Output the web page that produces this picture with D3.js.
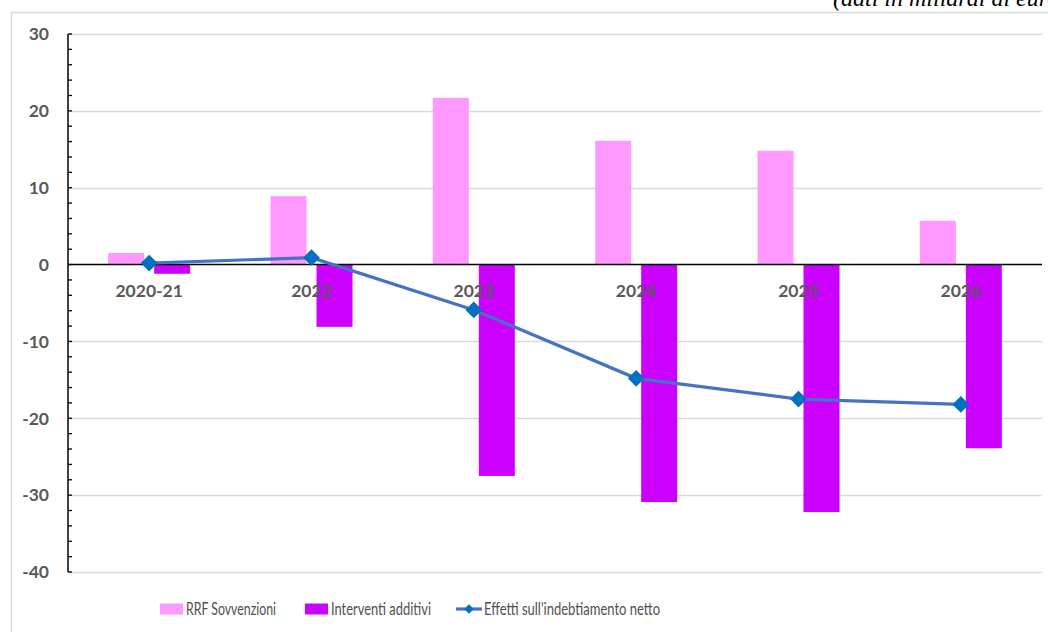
<!DOCTYPE html>
<html>
<head>
<meta charset="utf-8">
<script src="https://cdn.jsdelivr.net/npm/d3@7"></script>
<style>
  body { margin: 0; background: #fff; }
  svg { display: block; }
</style>
</head>
<body>
<div id="chart"></div>
<script>
const categories = ["2020-21", "2022", "2023", "2024", "2025", "2026"];
const rrfSovvenzioni = [1.5, 8.9, 21.7, 16.1, 14.8, 5.7];
const interventiAdditivi = [-1.2, -8.1, -27.5, -30.9, -32.2, -23.9];
const effettiIndebitamento = [0.2, 0.9, -5.9, -14.8, -17.5, -18.2];
const yTicks = [30, 20, 10, 0, -10, -20, -30, -40];
const seriesNames = ["RRF Sovvenzioni", "Interventi additivi", "Effetti sull'indebtiamento netto"];

const W = 1048, H = 632;
const margin = { top: 34, right: 6, bottom: 60, left: 68 };
const width = W - margin.left - margin.right;
const height = 572 - margin.top;

const svg = d3.select("#chart").append("svg")
    .attr("width", W)
    .attr("height", H);

// outer frame (only partly in view)
svg.append("line").attr("x1", 11).attr("x2", W).attr("y1", 12.5).attr("y2", 12.5)
    .attr("stroke", "#d9d9d9").attr("stroke-width", 1.5);
svg.append("line").attr("x1", 11.5).attr("x2", 11.5).attr("y1", 12).attr("y2", H)
    .attr("stroke", "#d9d9d9").attr("stroke-width", 1.5);

// unit note, clipped by the top/right edge as in the source
svg.append("text")
    .attr("x", 833).attr("y", 6)
    .style("font-family", "'Liberation Serif', serif")
    .style("font-style", "italic")
    .style("font-size", "24px")
    .attr("fill", "#000")
    .text("(dati in miliardi di euro)");

const g = svg.append("g").attr("transform", `translate(${margin.left},${margin.top})`);

const x = d3.scaleBand().domain(categories).range([0, width]).padding(0);
const y = d3.scaleLinear().domain([-40, 30]).range([height, 0]);

const labelFont = s => s.style("font-family", "Lato, 'Open Sans', sans-serif")
    .style("font-weight", "bold")
    .style("font-size", "17.5px")
    .attr("fill", "#595959");

// gridlines
g.append("g")
    .selectAll("line")
    .data(yTicks.filter(d => d !== 0))
    .join("line")
    .attr("x1", 0).attr("x2", width)
    .attr("y1", d => Math.round(y(d)) + 0.5).attr("y2", d => Math.round(y(d)) + 0.5)
    .attr("stroke", "#d9d9d9").attr("stroke-width", 1.3);

// bars
const barW = 36, gap = 10;
g.selectAll(".bar-rrf")
    .data(rrfSovvenzioni)
    .join("rect")
    .attr("class", "bar-rrf")
    .attr("x", (d, i) => x(categories[i]) + x.bandwidth() / 2 - gap / 2 - barW)
    .attr("y", d => y(Math.max(0, d)))
    .attr("width", barW)
    .attr("height", d => Math.abs(y(d) - y(0)))
    .attr("fill", "#ff99ff");

g.selectAll(".bar-int")
    .data(interventiAdditivi)
    .join("rect")
    .attr("class", "bar-int")
    .attr("x", (d, i) => x(categories[i]) + x.bandwidth() / 2 + gap / 2)
    .attr("y", d => y(Math.max(0, d)))
    .attr("width", barW)
    .attr("height", d => Math.abs(y(d) - y(0)))
    .attr("fill", "#cc00ff");

// zero line
g.append("line")
    .attr("x1", 0).attr("x2", width)
    .attr("y1", y(0)).attr("y2", y(0))
    .attr("stroke", "#000").attr("stroke-width", 1.5);

// y axis, ticks on the inside
const yAxis = g.append("g");
yAxis.append("line")
    .attr("x1", 0).attr("x2", 0).attr("y1", 0).attr("y2", height)
    .attr("stroke", "#000").attr("stroke-width", 1.5);
yAxis.selectAll(".minor")
    .data(d3.range(-40, 31, 2))
    .join("line")
    .attr("x1", 0).attr("x2", 4)
    .attr("y1", d => y(d)).attr("y2", d => y(d))
    .attr("stroke", "#000").attr("stroke-width", 1.3);
yAxis.selectAll(".lbl")
    .data(yTicks)
    .join("text")
    .attr("x", -19)
    .attr("y", d => y(d))
    .attr("dy", "0.36em")
    .attr("text-anchor", "end")
    .call(labelFont)
    .text(d => d);

// x labels
g.selectAll(".xlbl")
    .data(categories)
    .join("text")
    .attr("x", d => x(d) + x.bandwidth() / 2)
    .attr("y", y(0) + 32)
    .attr("text-anchor", "middle")
    .call(labelFont)
    .text(d => d);

// line + diamond markers
const line = d3.line()
    .x((d, i) => x(categories[i]) + x.bandwidth() / 2)
    .y(d => y(d));
g.append("path")
    .datum(effettiIndebitamento)
    .attr("d", line)
    .attr("fill", "none")
    .attr("stroke", "#4472c4")
    .attr("stroke-width", 3.2);

g.selectAll(".mk")
    .data(effettiIndebitamento)
    .join("path")
    .attr("d", d3.symbol().type(d3.symbolSquare).size(140))
    .attr("transform", (d, i) => `translate(${x(categories[i]) + x.bandwidth() / 2},${y(d)}) rotate(45)`)
    .attr("fill", "#0070c0");

// legend
const legend = svg.append("g").attr("transform", "translate(0,609)");
const legFont = s => s.style("font-family", "Lato, 'Open Sans', sans-serif")
    .style("font-size", "17.5px").attr("fill", "#505050")
    .attr("lengthAdjust", "spacingAndGlyphs");

legend.append("rect").attr("x", 160).attr("y", -5.5).attr("width", 23).attr("height", 11).attr("fill", "#ff99ff");
legend.append("text").attr("x", 186).attr("y", 0).attr("dy", "0.35em").attr("textLength", 90)
    .call(legFont).text(seriesNames[0]);

legend.append("rect").attr("x", 305).attr("y", -5.5).attr("width", 23).attr("height", 11).attr("fill", "#cc00ff");
legend.append("text").attr("x", 331).attr("y", 0).attr("dy", "0.35em").attr("textLength", 100)
    .call(legFont).text(seriesNames[1]);

legend.append("line").attr("x1", 456).attr("x2", 482).attr("y1", 0).attr("y2", 0)
    .attr("stroke", "#4472c4").attr("stroke-width", 3.2);
legend.append("path").attr("transform", "translate(469,0) rotate(45)")
    .attr("d", d3.symbol().type(d3.symbolSquare).size(45)).attr("fill", "#0070c0");
legend.append("text").attr("x", 484).attr("y", 0).attr("dy", "0.35em").attr("textLength", 176)
    .call(legFont).text(seriesNames[2]);
</script>
</body>
</html>
